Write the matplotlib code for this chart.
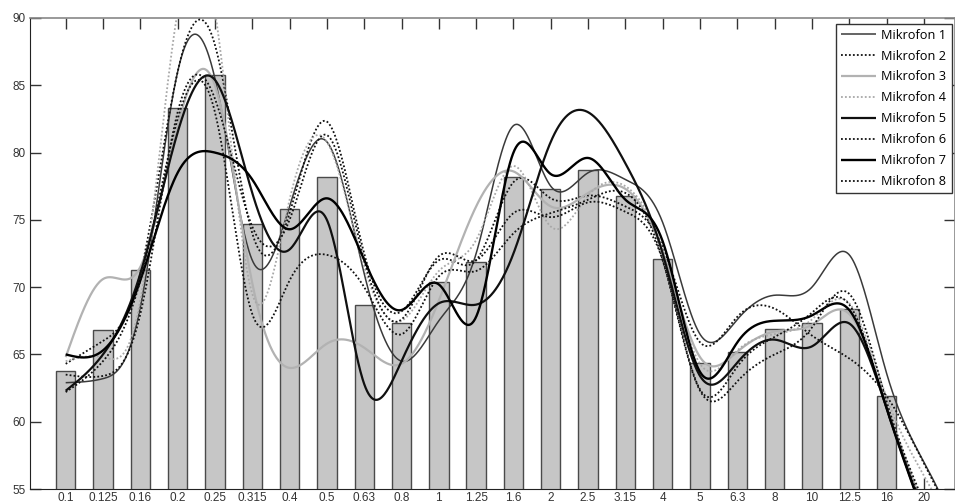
import numpy as np
import matplotlib
matplotlib.use("Agg")
import matplotlib.pyplot as plt

# Third-octave band centre frequencies (kHz)
bands = ["0.1", "0.125", "0.16", "0.2", "0.25", "0.315", "0.4", "0.5", "0.63", "0.8",
         "1", "1.25", "1.6", "2", "2.5", "3.15", "4", "5", "6.3", "8", "10", "12.5",
         "16", "20"]

# Averaged level per band (dB); no bar for the 20 kHz band
mean_level = [63.8, 66.8, 71.3, 83.3, 85.8, 74.7, 75.8, 78.2, 68.7, 67.3,
              70.4, 71.9, 78.2, 77.3, 78.7, 76.8, 72.1, 64.4, 65.2, 66.9,
              67.3, 68.4, 61.9, np.nan]

# Level per band for each microphone (dB)
mic1 = [62.9, 63.2, 68.5, 86.0, 85.5, 72.0, 76.0, 80.8, 71.0, 64.5, 67.5, 72.5,
        82.0, 77.5, 78.5, 78.0, 74.8, 66.5, 67.6, 69.4, 70.0, 72.4, 63.6, 57.0]
mic2 = [64.3, 66.0, 71.0, 86.0, 88.0, 74.0, 75.5, 82.3, 72.5, 68.2, 72.0, 72.0,
        77.8, 76.6, 76.8, 76.0, 73.0, 65.9, 67.8, 68.4, 66.4, 64.7, 61.9, 56.9]
mic3 = [64.8, 70.6, 71.5, 82.0, 85.0, 70.3, 64.0, 65.8, 65.5, 64.3, 69.0, 76.0,
        78.6, 76.0, 77.0, 77.3, 72.6, 64.8, 65.2, 66.7, 67.2, 68.0, 61.2, 53.5]
mic4 = [64.5, 64.8, 69.0, 90.5, 90.5, 69.5, 76.5, 80.8, 71.5, 67.5, 71.2, 73.5,
        79.0, 74.5, 76.8, 77.5, 72.8, 64.3, 65.3, 66.5, 67.6, 68.8, 61.8, 56.0]
mic5 = [62.3, 65.0, 71.0, 81.5, 85.4, 77.0, 72.8, 75.0, 62.8, 64.5, 68.8, 68.7,
        72.5, 80.8, 83.0, 79.2, 72.5, 63.4, 64.4, 66.1, 65.6, 67.3, 61.0, 53.0]
mic6 = [63.5, 63.4, 68.0, 83.0, 84.0, 74.5, 75.0, 81.3, 72.0, 67.6, 72.3, 72.0,
        75.5, 75.2, 76.3, 75.6, 72.0, 62.4, 64.1, 66.3, 68.1, 68.7, 61.0, 53.5]
mic7 = [65.0, 65.3, 70.5, 78.5, 80.0, 78.0, 74.3, 76.6, 72.0, 68.3, 70.2, 67.8,
        80.0, 78.4, 79.6, 76.5, 73.4, 63.7, 65.9, 67.5, 67.9, 68.3, 61.0, 53.0]
mic8 = [62.2, 64.5, 70.5, 82.5, 83.0, 68.0, 70.5, 72.4, 70.0, 66.5, 70.8, 71.2,
        74.0, 75.5, 76.5, 77.0, 72.0, 62.3, 63.0, 65.0, 67.0, 69.5, 61.5, 54.0]

mic_names = ["Mikrofon 1", "Mikrofon 2", "Mikrofon 3", "Mikrofon 4",
             "Mikrofon 5", "Mikrofon 6", "Mikrofon 7", "Mikrofon 8"]


def natural_spline(x, y, xs):
    """Natural cubic spline through (x, y), evaluated at xs."""
    x = np.asarray(x, float)
    y = np.asarray(y, float)
    n = len(x)
    h = np.diff(x)
    A = np.zeros((n, n))
    r = np.zeros(n)
    A[0, 0] = A[-1, -1] = 1.0
    for i in range(1, n - 1):
        A[i, i - 1] = h[i - 1]
        A[i, i] = 2.0 * (h[i - 1] + h[i])
        A[i, i + 1] = h[i]
        r[i] = 3.0 * ((y[i + 1] - y[i]) / h[i] - (y[i] - y[i - 1]) / h[i - 1])
    c = np.linalg.solve(A, r)
    b = (y[1:] - y[:-1]) / h - h * (2.0 * c[:-1] + c[1:]) / 3.0
    d = (c[1:] - c[:-1]) / (3.0 * h)
    idx = np.clip(np.searchsorted(x, xs) - 1, 0, n - 2)
    dx = xs - x[idx]
    return y[idx] + b[idx] * dx + c[idx] * dx ** 2 + d[idx] * dx ** 3


fig = plt.figure(figsize=(9.55, 5.04), dpi=100)
ax = fig.add_axes([29.5 / 955, 1 - 489 / 504, (954.5 - 29.5) / 955, (489 - 18) / 504])

pos = np.arange(len(bands))
ax.bar(pos, mean_level, width=0.52, color="#c6c6c6", edgecolor="#4a4a4a",
       linewidth=1.0, zorder=2)

styles = [
    dict(color="#3a3a3a", lw=1.1, ls="-"),
    dict(color="#111111", lw=1.3, ls=(0, (1, 1.2))),
    dict(color="#b2b2b2", lw=1.6, ls="-"),
    dict(color="#a8a8a8", lw=1.3, ls=(0, (1, 1.2))),
    dict(color="#101010", lw=1.6, ls="-"),
    dict(color="#111111", lw=1.3, ls=(0, (1, 1.2))),
    dict(color="#000000", lw=1.7, ls="-"),
    dict(color="#111111", lw=1.3, ls=(0, (1, 1.2))),
]

xs = np.linspace(0, 23.45, 1200)
for vals, name, st in zip([mic1, mic2, mic3, mic4, mic5, mic6, mic7, mic8],
                          mic_names, styles):
    ax.plot(xs, natural_spline(pos, vals, xs), label=name, zorder=3,
            solid_capstyle="butt", dash_capstyle="butt", **st)

ax.set_xlim(-0.97, 23.82)
ax.set_ylim(55, 90)
ax.set_yticks(np.arange(55, 91, 5))
ax.set_xticks(pos)
ax.set_xticklabels(bands)
ax.set_axisbelow(True)

ax.tick_params(axis="both", direction="in", length=8, width=1.0, color="#333333",
               labelsize=8.5, labelcolor="#333333", top=True, right=True, pad=3)
for lab in ax.get_xticklabels() + ax.get_yticklabels():
    lab.set_family("Liberation Sans")
ax.tick_params(axis="x", pad=2)
for side in ["left", "bottom"]:
    ax.spines[side].set_color("#222222")
for side in ["top", "right"]:
    ax.spines[side].set_color("#888888")
    ax.spines[side].set_linewidth(1.2)

leg = ax.legend(loc="upper left", bbox_to_anchor=(836 / 955, 1 - 23.5 / 504),
                bbox_transform=fig.transFigure, borderaxespad=0, frameon=True,
                fancybox=False, framealpha=1, edgecolor="#333333",
                prop={"family": "Open Sans", "size": 9.2},
                handlelength=2.7, handletextpad=0.45, labelspacing=0.62,
                borderpad=0.4)
leg.get_frame().set_linewidth(1.0)

fig.savefig("out.png", dpi=100)
